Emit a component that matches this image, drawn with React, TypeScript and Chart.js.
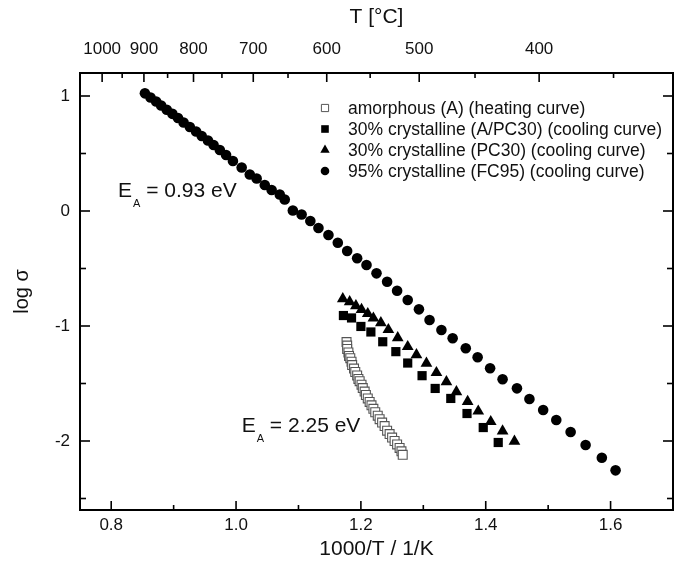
import React, { useEffect, useRef } from 'react';
import { Chart, registerables } from 'chart.js';

Chart.register(...registerables);

const FONT = '"Liberation Sans", Arial, Helvetica, sans-serif';
const INK = '#111';

// 95% crystalline (FC95) (cooling curve)
const fc95X = [
  0.854, 0.863, 0.872, 0.880, 0.889, 0.898, 0.907, 0.916, 0.926, 0.936, 0.945, 0.955,
  0.964, 0.974, 0.984, 0.995, 1.009, 1.022, 1.033, 1.046, 1.057, 1.070, 1.078,
  1.091, 1.105, 1.119, 1.132, 1.148, 1.163, 1.178, 1.194, 1.209, 1.225, 1.242, 1.258,
  1.275, 1.293, 1.310, 1.329, 1.347, 1.368, 1.387, 1.407, 1.427, 1.450, 1.470, 1.492,
  1.513, 1.536, 1.560, 1.586, 1.608,
];
const fc95Y = [
  1.023, 0.987, 0.952, 0.917, 0.880, 0.845, 0.809, 0.770, 0.730, 0.691, 0.652, 0.613,
  0.574, 0.530, 0.487, 0.435, 0.378, 0.317, 0.283, 0.226, 0.183, 0.143, 0.100,
  0.004, -0.030, -0.087, -0.148, -0.209, -0.276, -0.348, -0.411, -0.470, -0.542, -0.615, -0.693,
  -0.774, -0.855, -0.948, -1.035, -1.107, -1.194, -1.272, -1.368, -1.463, -1.542, -1.635, -1.730,
  -1.817, -1.922, -2.035, -2.146, -2.255,
];

// 30% crystalline (PC30) (cooling curve)
const pc30X = [
  1.171, 1.182, 1.192, 1.201, 1.211, 1.220, 1.232, 1.244, 1.259, 1.275, 1.289, 1.305,
  1.321, 1.337, 1.353, 1.371, 1.388, 1.408, 1.427, 1.446,
];
const pc30Y = [
  -0.763, -0.789, -0.824, -0.858, -0.893, -0.932, -0.972, -1.032, -1.102, -1.180, -1.250, -1.325,
  -1.406, -1.485, -1.572, -1.658, -1.741, -1.832, -1.913, -2.002,
];

// 30% crystalline (A/PC30) (cooling curve)
const apc30X = [1.172, 1.185, 1.200, 1.216, 1.235, 1.256, 1.275, 1.298, 1.319, 1.344, 1.370, 1.396, 1.420];
const apc30Y = [-0.909, -0.930, -1.004, -1.052, -1.137, -1.223, -1.322, -1.432, -1.543, -1.630, -1.761, -1.883, -2.013];

// amorphous (A) (heating curve)
const amX = [
  1.177, 1.178, 1.178, 1.180, 1.181, 1.183, 1.185, 1.186, 1.189, 1.191, 1.194, 1.196,
  1.198, 1.201, 1.203, 1.206, 1.208, 1.211, 1.214, 1.217, 1.220, 1.223, 1.227, 1.230,
  1.234, 1.238, 1.242, 1.246, 1.250, 1.254, 1.258, 1.262, 1.265, 1.267,
];
const amY = [
  -1.14, -1.17, -1.20, -1.23, -1.26, -1.28, -1.31, -1.34, -1.37, -1.40, -1.43, -1.46,
  -1.48, -1.51, -1.54, -1.57, -1.60, -1.63, -1.66, -1.69, -1.72, -1.75, -1.78, -1.81,
  -1.84, -1.87, -1.91, -1.94, -1.97, -2.00, -2.03, -2.06, -2.09, -2.12,
];

const seriesLabels = [
  'amorphous (A) (heating curve)',
  '30% crystalline (A/PC30) (cooling curve)',
  '30% crystalline (PC30) (cooling curve)',
  '95% crystalline (FC95) (cooling curve)',
];

const xMajorTicks = [0.8, 1.0, 1.2, 1.4, 1.6];
const xMinorTicks = [0.9, 1.1, 1.3, 1.5];
const yMajorTicks = [-2, -1, 0, 1];
const yMinorTicks = [-2.5, -1.5, -0.5, 0.5];
const topMajorC = [1000, 900, 800, 700, 600, 500, 400];
const topMinorC = [950, 850, 750, 650, 550, 450, 350];

const X_MIN = 0.75;
const X_MAX = 1.7;
const Y_MIN = -2.6;
const Y_MAX = 1.2;

const invT = (c: number) => 1000 / (c + 273.15);
const pts = (xs: number[], ys: number[]) => xs.map((x, i) => ({ x, y: ys[i] }));

function drawMarker(ctx: CanvasRenderingContext2D, kind: number, x: number, y: number) {
  ctx.save();
  ctx.fillStyle = '#000';
  ctx.strokeStyle = '#000';
  ctx.lineWidth = 1;
  if (kind === 0) {
    ctx.fillStyle = '#fff';
    ctx.strokeStyle = '#555';
    ctx.beginPath();
    ctx.rect(x - 3.6, y - 3.6, 7.2, 7.2);
    ctx.fill();
    ctx.stroke();
  } else if (kind === 1) {
    ctx.fillRect(x - 3.8, y - 3.8, 7.6, 7.6);
  } else if (kind === 2) {
    const r = 5.4;
    ctx.beginPath();
    ctx.moveTo(x, y - r);
    ctx.lineTo(x + r * Math.sin((2 * Math.PI) / 3), y + r * 0.5);
    ctx.lineTo(x - r * Math.sin((2 * Math.PI) / 3), y + r * 0.5);
    ctx.closePath();
    ctx.fill();
  } else {
    ctx.beginPath();
    ctx.arc(x, y, 4.3, 0, Math.PI * 2);
    ctx.fill();
  }
  ctx.restore();
}

function drawEA(ctx: CanvasRenderingContext2D, x: number, y: number, value: string) {
  ctx.save();
  ctx.fillStyle = INK;
  ctx.textBaseline = 'alphabetic';
  ctx.textAlign = 'left';
  ctx.font = `21px ${FONT}`;
  ctx.fillText('E', x, y);
  let cx = x + ctx.measureText('E').width + 1;
  ctx.font = `11px ${FONT}`;
  ctx.fillText('A', cx, y + 10);
  cx += ctx.measureText('A').width;
  ctx.font = `21px ${FONT}`;
  ctx.fillText(' = ' + value, cx, y);
  ctx.restore();
}

const decorPlugin = {
  id: 'decor',
  afterDatasetsDraw(chart: any) {
    const { ctx, chartArea: a, scales } = chart;
    const sx = scales.x;
    const sy = scales.y;
    const MAJ = 9;
    const MIN = 5;
    ctx.save();
    ctx.strokeStyle = '#000';
    ctx.lineWidth = 1.6;
    const seg = (x1: number, y1: number, x2: number, y2: number) => {
      ctx.beginPath();
      ctx.moveTo(x1, y1);
      ctx.lineTo(x2, y2);
      ctx.stroke();
    };
    xMajorTicks.forEach((v) => { const p = sx.getPixelForValue(v); seg(p, a.bottom, p, a.bottom - MAJ); });
    xMinorTicks.forEach((v) => { const p = sx.getPixelForValue(v); seg(p, a.bottom, p, a.bottom - MIN); });
    topMajorC.forEach((c) => {
      const v = invT(c);
      if (v < X_MIN || v > X_MAX) return;
      const p = sx.getPixelForValue(v);
      seg(p, a.top, p, a.top + MAJ);
    });
    topMinorC.forEach((c) => {
      const v = invT(c);
      if (v < X_MIN || v > X_MAX) return;
      const p = sx.getPixelForValue(v);
      seg(p, a.top, p, a.top + MIN);
    });
    yMajorTicks.forEach((v) => {
      const p = sy.getPixelForValue(v);
      seg(a.left, p, a.left + MAJ + 1, p);
      seg(a.right, p, a.right - MAJ - 1, p);
    });
    yMinorTicks.forEach((v) => {
      const p = sy.getPixelForValue(v);
      seg(a.left, p, a.left + MIN + 1, p);
      seg(a.right, p, a.right - MIN - 1, p);
    });
    ctx.lineWidth = 2;
    ctx.strokeRect(a.left, a.top, a.right - a.left, a.bottom - a.top);

    // legend
    const lx = a.left + 245;
    const ly = a.top + 35;
    ctx.font = `17.5px ${FONT}`;
    ctx.fillStyle = INK;
    ctx.textBaseline = 'middle';
    ctx.textAlign = 'left';
    seriesLabels.forEach((t, i) => {
      const yy = ly + i * 21;
      drawMarker(ctx, i, lx, yy);
      ctx.fillStyle = INK;
      ctx.fillText(t, lx + 23, yy + 1);
    });

    // activation energy annotations
    drawEA(ctx, sx.getPixelForValue(0.811), sy.getPixelForValue(0.124), '0.93 eV');
    drawEA(ctx, sx.getPixelForValue(1.009), sy.getPixelForValue(-1.919), '2.25 eV');
    ctx.restore();
  },
};

export default function App() {
  const ref = useRef<HTMLCanvasElement | null>(null);

  useEffect(() => {
    if (!ref.current) return;
    Chart.defaults.font.family = FONT;
    Chart.defaults.color = INK;
    const chart = new Chart(ref.current, {
      type: 'scatter',
      data: {
        datasets: [
          {
            label: seriesLabels[3],
            data: pts(fc95X, fc95Y),
            pointStyle: 'circle',
            pointRadius: 5.3,
            backgroundColor: '#000',
            borderColor: '#000',
            borderWidth: 0,
          },
          {
            label: seriesLabels[2],
            data: pts(pc30X, pc30Y),
            pointStyle: 'triangle',
            pointRadius: 6.8,
            backgroundColor: '#000',
            borderColor: '#000',
            borderWidth: 0,
          },
          {
            label: seriesLabels[1],
            data: pts(apc30X, apc30Y),
            pointStyle: 'rect',
            pointRadius: 6.5,
            backgroundColor: '#000',
            borderColor: '#000',
            borderWidth: 0,
          },
          {
            label: seriesLabels[0],
            data: pts(amX, amY),
            pointStyle: 'rect',
            pointRadius: 6.3,
            backgroundColor: '#fff',
            borderColor: '#555',
            borderWidth: 1.1,
          },
        ],
      },
      options: {
        animation: false,
        responsive: false,
        devicePixelRatio: 1,
        layout: { autoPadding: false, padding: { left: 0, right: 2, top: 0, bottom: 0 } },
        plugins: { legend: { display: false }, tooltip: { enabled: false } },
        scales: {
          x: {
            type: 'linear',
            position: 'bottom',
            min: X_MIN,
            max: X_MAX,
            grid: { display: false, drawTicks: false },
            border: { display: false },
            afterBuildTicks: (s: any) => { s.ticks = xMajorTicks.map((v) => ({ value: v })); },
            afterFit: (s: any) => { s.height = 65; },
            ticks: {
              padding: 5,
              autoSkip: false,
              maxRotation: 0,
              font: { size: 17 },
              color: INK,
              callback: (v: any) => Number(v).toFixed(1),
            },
            title: {
              display: true,
              text: '1000/T / 1/K',
              font: { size: 21 },
              color: INK,
              padding: { top: 0, bottom: 13 },
            },
          },
          x2: {
            type: 'linear',
            position: 'top',
            min: X_MIN,
            max: X_MAX,
            grid: { display: false, drawTicks: false },
            border: { display: false },
            afterBuildTicks: (s: any) => { s.ticks = topMajorC.map((c) => ({ value: invT(c) })); },
            afterFit: (s: any) => { s.height = 73; },
            ticks: {
              padding: 13,
              autoSkip: false,
              maxRotation: 0,
              font: { size: 17 },
              color: INK,
              callback: (_v: any, i: number) => String(topMajorC[i]),
            },
            title: {
              display: true,
              text: 'T [°C]',
              font: { size: 21 },
              color: INK,
              padding: { top: 5, bottom: 0 },
            },
          },
          y: {
            type: 'linear',
            position: 'left',
            min: Y_MIN,
            max: Y_MAX,
            grid: { display: false, drawTicks: false },
            border: { display: false },
            afterBuildTicks: (s: any) => { s.ticks = yMajorTicks.map((v) => ({ value: v })); },
            afterFit: (s: any) => { s.width = 80; },
            ticks: {
              padding: 10,
              font: { size: 17 },
              color: INK,
              callback: (v: any) => String(v),
            },
            title: {
              display: true,
              text: 'log σ',
              font: { size: 20 },
              color: INK,
              padding: { top: 10, bottom: 0 },
            },
          },
        },
      },
      plugins: [decorPlugin],
    } as any);
    return () => chart.destroy();
  }, []);

  return (
    <div style={{ position: 'absolute', left: 0, top: 0, width: 675, height: 575, background: '#fff' }}>
      <canvas ref={ref} width={675} height={575} style={{ display: 'block', width: 675, height: 575 }} />
    </div>
  );
}
